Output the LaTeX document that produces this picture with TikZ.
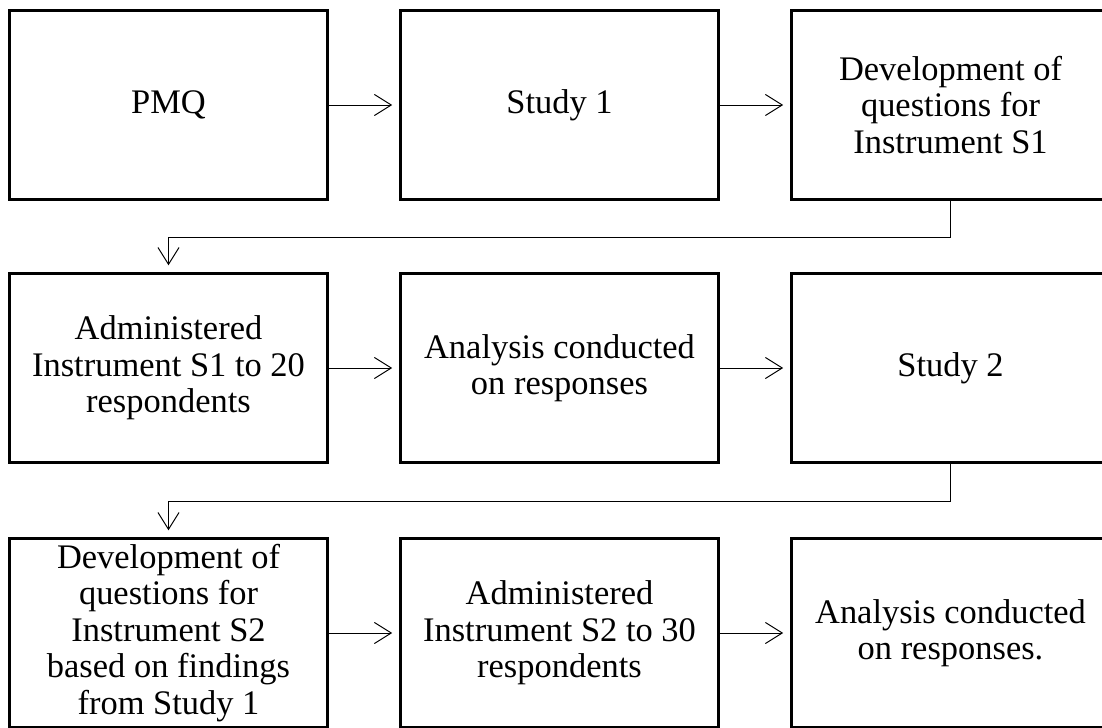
\documentclass[tikz,border=0pt]{standalone}
\usepackage{fontspec}
\setmainfont{Liberation Serif}
\usetikzlibrary{arrows.meta}

\begin{document}
\begin{tikzpicture}[x=0.025cm, y=-0.025cm,
    stage/.style={draw, line width=1.8pt, minimum width=7.95cm, minimum height=4.72cm,
      align=center, inner sep=0pt, font=\fontsize{24.5}{26}\selectfont},
    flow/.style={line width=0.7pt, -{Straight Barb[length=12pt, width=15pt, line width=0.7pt]},
      shorten >=5pt}]
  \useasboundingbox (0,0) rectangle (1102,728);

  \node[stage] (pmq)  at (168.5,105) {PMQ};
  \node[stage] (st1)  at (559.5,105) {Study 1};
  \node[stage] (dq1)  at (950.5,105) {Development of\\questions for\\Instrument S1};
  \node[stage] (adm1) at (168.5,368) {Administered\\Instrument S1 to 20\\respondents};
  \node[stage] (ana1) at (559.5,368) {Analysis conducted\\on responses};
  \node[stage] (st2)  at (950.5,368) {Study 2};
  \node[stage] (dq2)  at (168.5,633) {Development of\\questions for\\Instrument S2\\based on findings\\from Study 1};
  \node[stage] (adm2) at (559.5,633) {Administered\\Instrument S2 to 30\\respondents};
  \node[stage] (ana2) at (950.5,633) {Analysis conducted\\on responses.};

  \draw [flow] (pmq) -- (st1);
  \draw [flow] (st1) -- (dq1);
  \draw [flow] (dq1.south) -- ++(0,37) -| (adm1.north);
  \draw [flow] (adm1) -- (ana1);
  \draw [flow] (ana1) -- (st2);
  \draw [flow] (st2.south) -- ++(0,38) -| (dq2.north);
  \draw [flow] (dq2) -- (adm2);
  \draw [flow] (adm2) -- (ana2);
\end{tikzpicture}
\end{document}
